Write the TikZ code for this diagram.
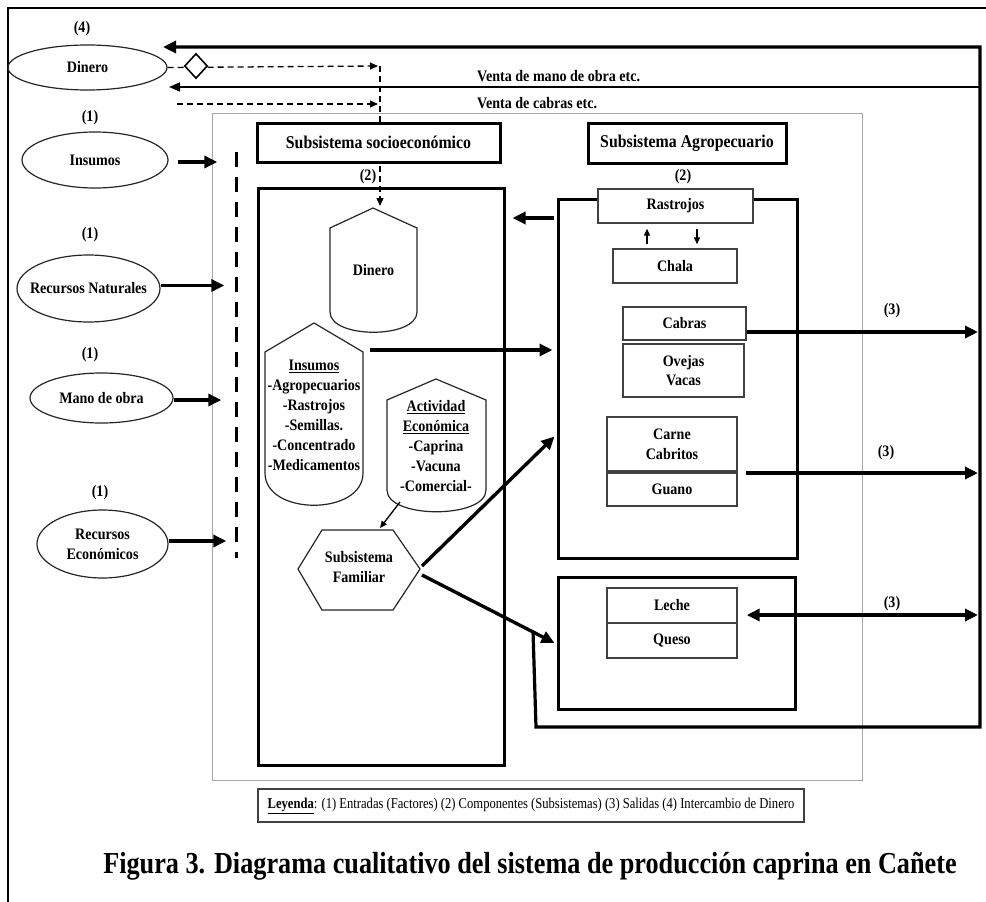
\documentclass[tikz,border=0pt]{standalone}
\usepackage{fontspec}
\setmainfont{Liberation Serif}[FakeStretch=0.88]
\newfontfamily\capfont{Liberation Serif}[FakeStretch=0.86]
\newfontfamily\legfont{Liberation Serif}[FakeStretch=0.84]
\usetikzlibrary{arrows.meta,shapes.geometric,calc}
\begin{document}
\begin{tikzpicture}[x=1pt,y=-1pt,
  every node/.style={font=\fontsize{16}{20}\selectfont\bfseries, inner sep=0pt},
  ell/.style={ellipse, draw=black!85, line width=1.2pt},
  ttl/.style={draw=black, line width=3pt, fill=white, font=\fontsize{18}{20}\selectfont\bfseries},
  bigbox/.style={draw=black, line width=3pt},
  ibox/.style={draw=black!75, line width=1.4pt, fill=white, align=center},
  shapeline/.style={draw=black!85, line width=1.2pt},
  bigarrow/.style={line width=3.4pt, -{Triangle[length=13pt,width=12pt]}},
  loopline/.style={line width=3.2pt},
  thinarrow/.style={line width=1.6pt, -{Triangle[length=11pt,width=9pt]}},
  smallarrow/.style={line width=1.3pt, -{Triangle[length=7pt,width=6pt]}},
  dasharrow/.style={line width=1.3pt, dash pattern=on 6pt off 4pt, -{Triangle[length=8pt,width=7pt]}},
  dashline/.style={line width=1.3pt, dash pattern=on 6pt off 4pt},
  barrier/.style={line width=3pt, dash pattern=on 15pt off 10pt},
  lbl/.style={font=\fontsize{16}{20}\selectfont\bfseries}
]
\useasboundingbox (0,0) rectangle (986,902);
\fill[white] (0,0) rectangle (986,902);

% outer frame
\draw[line width=2pt] (986,8) -- (8,8) -- (8,902);

% gray container
\draw[draw=gray!70, line width=1pt] (212,113) rectangle (862,780);

% ---- left inputs ----
\node[lbl] (n4) at (82,29) {(4)};
\node[ell, minimum width=159, minimum height=45, label={center:Dinero}] (din) at (87.5,67.5) {};
\node[lbl] (n1a) at (90,118) {(1)};
\node[ell, minimum width=146, minimum height=56, label={center:Insumos}] (ins) at (95,160) {};
\node[lbl] (n1b) at (90,235) {(1)};
\node[ell, minimum width=143, minimum height=67, label={center:Recursos Naturales}] (rn) at (88.5,288.5) {};
\node[lbl] (n1c) at (90,355) {(1)};
\node[ell, minimum width=143, minimum height=50, label={center:Mano de obra}] (mo) at (101.5,398) {};
\node[lbl] (n1d) at (100,493) {(1)};
\node[ell, minimum width=131, minimum height=68, label={[align=center]center:Recursos\\Económicos}] (re) at (102.5,544) {};

% barrier
\node[minimum width=3pt, minimum height=406pt] (bar) at (236,355) {};
\draw[barrier] (bar.north) -- (bar.south);

\draw[bigarrow] ($(ins.east)+(9,2)$) -- ($(bar.west |- ins.east)+(-17,2)$);
\draw[bigarrow] ($(rn.east)+(0,-3)$) -- ($(bar.west |- rn.east)+(-10,-3)$);
\draw[bigarrow] ($(mo.east)+(0,2)$) -- ($(bar.west |- mo.east)+(-13,2)$);
\draw[bigarrow] ($(re.east)+(0,-3)$) -- ($(bar.west |- re.east)+(-8,-3)$);

% ---- money flows at top ----
\coordinate (cDash) at (380,66);
\coordinate (cDashTip) at (378,66);
\coordinate (cDin) at (380,206);
\coordinate (c2s) at (177,104);
\coordinate (c2e) at (378,104);
\draw[dasharrow] (din.east) -- (cDashTip);
\draw[dashline] (cDash) -- ($(cDin)+(0,-8)$);
\draw[dasharrow] ($(cDin)+(0,-9)$) -- (cDin);
\draw[dasharrow] (c2s) -- (c2e);
\node[diamond, draw=black, line width=1.6pt, fill=white, minimum width=23pt, minimum height=25pt] (dia) at (196,66) {};

\coordinate (loopTR) at (980,47);
\coordinate (loopBR) at (980,727);
\coordinate (loopBL) at (536,727);
\coordinate (dinTip) at (163,47);
\coordinate (ventaR) at (980,87);
\coordinate (ventaTip) at (169,87);
\draw[thinarrow] (ventaR) -- (ventaTip);
\node[lbl, anchor=west] (v1) at (477,76) {Venta de mano de obra etc.};
\node[lbl, anchor=west] (v2) at (477,103) {Venta de cabras etc.};

% ---- socio-economic subsystem ----
\node[ttl, minimum width=243, minimum height=39] (socT) at (378.5,142.5) {Subsistema socioeconómico};
\node[ttl, minimum width=198, minimum height=40] (agT) at (687,143) {Subsistema Agropecuario};
\node[lbl] (n2a) at (368,177) {(2)};
\node[lbl] (n2b) at (683,177) {(2)};

\node[bigbox, minimum width=246, minimum height=577] (socbig) at (381,476.5) {};

% Dinero shape
\draw[shapeline] (373,208) -- (417,228) -- (417,312) .. controls (417,339) and (330,339) .. (330,312) -- (330,228) -- cycle;
\node (dinS) at (373.5,270) {Dinero};

% Insumos shape
\draw[shapeline] (314,323) -- (363,352) -- (363,473) .. controls (363,516) and (265,516) .. (265,473) -- (265,352) -- cycle;
\node[align=center] (insS) at (314,415) {\underline{Insumos}\\-Agropecuarios\\-Rastrojos\\-Semillas.\\-Concentrado\\-Medicamentos};

% Actividad shape
\draw[shapeline] (436,379) -- (486,400) -- (486,490) .. controls (486,519) and (387,519) .. (387,490) -- (387,400) -- cycle;
\node[align=center] (act) at (436,446) {\underline{Actividad}\\\underline{Económica}\\-Caprina\\-Vacuna\\-Comercial-};

% Familiar hexagon
\draw[shapeline] (298,569) -- (322,530) -- (393,530) -- (420,569) -- (393,610) -- (322,610) -- cycle;
\node[align=center] (fam) at (359,567) {Subsistema\\Familiar};
\coordinate (famR) at (421,569);
\coordinate (actB) at (400,502);
\coordinate (famT) at (380,528);
\draw[smallarrow] (actB) -- (famT);

% ---- agro subsystem ----
\node[bigbox, minimum width=239, minimum height=359] (agro) at (677.5,378.5) {};
\node[bigbox, minimum width=237, minimum height=132] (lqbox) at (676.5,643) {};

\node[ibox, minimum width=155, minimum height=34] (rast) at (675.5,206) {Rastrojos};
\node[ibox, minimum width=124, minimum height=34] (chala) at (675,266) {Chala};
\draw[smallarrow] ($(chala.north)+(-28,-4)$) -- ($(rast.south)+(-28.5,5)$);
\draw[smallarrow] ($(rast.south)+(21.5,5)$) -- ($(chala.north)+(22,-4)$);
\node[ibox, minimum width=123, minimum height=33] (cabras) at (684.5,323.5) {Cabras};
\node[ibox, minimum width=121, minimum height=53] (ovejas) at (683.5,370.5) {Ovejas\\[-1pt]Vacas};
\node[ibox, minimum width=130, minimum height=54] (carne) at (672,444) {Carne\\Cabritos};
\node[ibox, minimum width=130, minimum height=33] (guano) at (672,489.5) {Guano};
\node[ibox, minimum width=130, minimum height=35] (leche) at (672,605.5) {Leche};
\node[ibox, minimum width=130, minimum height=35] (queso) at (672,640.5) {Queso};

% arrows inside
\draw[bigarrow] ($(insS.east)+(9,-65)$) -- ($(agro.west |- insS.east)+(-4,-65)$);
\draw[bigarrow] ($(agro.west |- rast.center)+(-3,12)$) -- ($(socbig.east |- rast.center)+(7,12)$);
\draw[bigarrow] ($(famR)+(1,-3)$) -- ($(agro.west)+(-2,58)$);
\draw[bigarrow] ($(famR)+(1,6)$) -- ($(lqbox.west)+(-2,0)$);

% money loop
\coordinate (br) at (533,631);
\draw[loopline, line join=miter] (br) -- (loopBL) -- (loopBR) -- (loopTR) -- ($(dinTip)+(10,0)$);
\draw[bigarrow] ($(dinTip)+(12,0)$) -- (dinTip);

% outputs
\draw[bigarrow] (cabras.east |- 0,332) -- (978,332);
\node[lbl] (n3a) at (892,311) {(3)};
\draw[bigarrow] ($(carne.east)+(8,29)$) -- (978,473);
\node[lbl] (n3b) at (886,453) {(3)};
\draw[line width=3.4pt, {Triangle[length=13pt,width=12pt]}-{Triangle[length=13pt,width=12pt]}] ($(leche.east)+(9,9.5)$) -- (978,615);
\node[lbl] (n3c) at (892,604) {(3)};

% legend
\node[draw=black!75, line width=1.3pt, minimum width=546, minimum height=33, font=\legfont\fontsize{15}{16}\selectfont] (leg) at (531,805.5)
  {\textbf{\underline{Leyenda}}: (1) Entradas (Factores) (2) Componentes (Subsistemas) (3) Salidas (4) Intercambio de Dinero};

% caption
\node[font=\capfont\fontsize{30.5}{32}\selectfont\bfseries] (cap) at (530,866)
  {Figura 3. Diagrama cualitativo del sistema de producción caprina en Cañete};
\end{tikzpicture}
\end{document}
